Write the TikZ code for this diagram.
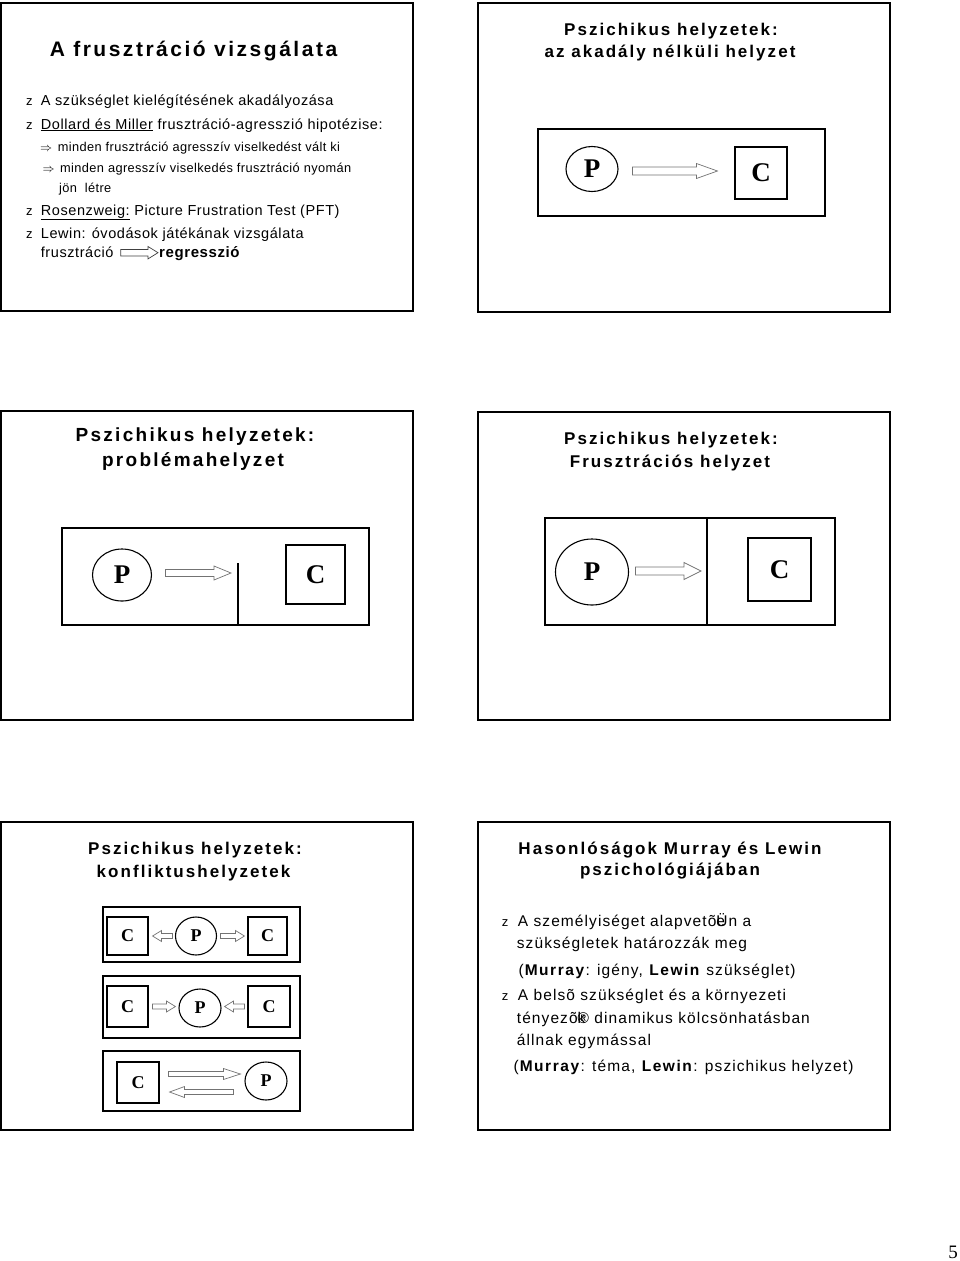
\documentclass[tikz,border=0pt]{standalone}
\usepackage{fontspec}
\setmainfont{Liberation Sans}
\newfontfamily\pcfont{Liberation Serif}
\usetikzlibrary{positioning,calc,shapes.geometric}

% hollow block arrow: [style]{tail}{tip}{shaft half}{head half}{head length}
\newcommand{\fatarrow}[6][]{%
  \draw[fat,#1] let \p1=#2, \p2=#3, \n1={ifthenelse(\x2>\x1,1,-1)} in
    (\x1,\y1-#4) -- ({\x2-(\n1)*(#6)},\y1-#4) -- ({\x2-(\n1)*(#6)},\y1-#5)
    -- (\x2,\y1) -- ({\x2-(\n1)*(#6)},\y1+#5) -- ({\x2-(\n1)*(#6)},\y1+#4)
    -- (\x1,\y1+#4) -- cycle;}

\tikzset{
  slide/.style={draw, line width=1.8pt},
  frame/.style={draw, line width=1.1pt},
  title1/.style={font={\bfseries\fontsize{21}{25}\selectfont\addfontfeature{LetterSpace=12}}, inner sep=0pt, anchor=base},
  title/.style={font={\bfseries\fontsize{17}{22}\selectfont\addfontfeature{LetterSpace=12}}, inner sep=0pt, anchor=base},
  bigtitle/.style={font={\bfseries\fontsize{19}{24}\selectfont\addfontfeature{LetterSpace=12}}, inner sep=0pt, anchor=base},
  body/.style={font={\fontsize{14.5}{17}\selectfont\addfontfeature{LetterSpace=4}}, inner sep=0pt, anchor=base west},
  body6/.style={font={\fontsize{15.5}{18}\selectfont\addfontfeature{LetterSpace=7}}, inner sep=0pt, anchor=base west},
  small/.style={font={\fontsize{12.8}{15}\selectfont\addfontfeature{LetterSpace=3}}, inner sep=0pt, anchor=base west},
  bul/.style={font={\fontsize{13}{15}\selectfont}, inner sep=0pt, anchor=base west},
  person/.style={ellipse, draw, line width=1.1pt, inner sep=0pt, font={\pcfont\bfseries\fontsize{27}{27}\selectfont}},
  goal/.style={rectangle, draw, line width=1.1pt, inner sep=0pt, font={\pcfont\bfseries\fontsize{27}{27}\selectfont}},
  little/.style={font={\pcfont\bfseries\fontsize{18}{18}\selectfont}},
  fat/.style={draw=black!55, fill=white, line width=0.7pt, line join=miter},
}
\newcommand{\wide}[1]{{\addfontfeature{LetterSpace=10}#1}}

\begin{document}
\begin{tikzpicture}[x=1pt, y=-1pt]
\useasboundingbox (0,0) rectangle (960,1261);

% Slide 1: A frusztracio vizsgalata
\draw[slide] (1,3) rectangle (413,311);
\node[title1] (t1) at (193.5,56) {A frusztráció vizsgálata};
\foreach \n/\y in {a/105.7, b/129, c/215, d/238}
  \node[bul] (z\n) at (26,\y) {z};
\node[body] (l1) at (40.7,105.7) {A szükséglet kielégítésének akadályozása};
\node[body] (l2) at (40.7,129) {\underline{Dollard és Miller} frusztráció-agresszió hipotézise:};
\node[small] (s1a) at (40,151.7) {$\Rightarrow$};
\node[small] (s1) at (57.7,151.7) {minden frusztráció agresszív viselkedést vált ki};
\node[small] (s2a) at (42.3,172) {$\Rightarrow$};
\node[small] (s2) at (60,172) {minden agresszív viselkedés frusztráció nyomán};
\node[small] (s3) at (59,192.7) {jön\ \ létre};
\node[body] (l3) at (40.7,215) {\underline{Rosenzweig:} Picture Frustration Test (PFT)};
\node[body] (l4) at (40.7,238) {Lewin: óvodások játékának vizsgálata};
\node[body] (fr) at (40.7,257.3) {frusztráció};
\node[body, font={\bfseries\fontsize{15}{17}\selectfont\addfontfeature{LetterSpace=4}}] (reg) at (159,257.3) {regresszió};
\fatarrow[draw=black!75]{($(fr.base east)+(7,-4.6)$)}{($(reg.base west)+(-1,-4.6)$)}{3.3pt}{6.2pt}{10pt}

% Slide 2: akadaly nelkuli helyzet
\draw[slide] (478,3) rectangle (890,312);
\node[title] (t2a) at (671,35) {Pszichikus helyzetek:};
\node[title] (t2b) at (670,57) {az akadály nélküli helyzet};
\draw[frame] (538,129) rectangle (825,216);
\node[person, minimum width=52pt, minimum height=45pt] (p2) at (592,169) {P};
\node[goal, minimum size=52pt] (c2) at (761,173) {C};
\fatarrow{($(p2.east)+(14,2)$)}{($(c2.west)+(-17,0)$)}{4pt}{7.5pt}{21pt}

% Slide 3: problemahelyzet
\draw[slide] (1,411) rectangle (413,720);
\node[bigtitle] (t3a) at (195,441) {Pszichikus helyzetek:};
\node[bigtitle] (t3b) at (193,466) {problémahelyzet};
\draw[frame] (62,528) rectangle (369,625);
\coordinate (wall) at (238,563);
\draw[frame] (wall) -- (238,625);
\node[person, minimum width=59pt, minimum height=52pt] (p3) at (122,575) {P};
\node[goal, minimum size=59pt] (c3) at (315.5,574.5) {C};
\fatarrow{($(p3.east)+(13.5,-2)$)}{($(wall)+(-7,0)$)}{3.5pt}{7pt}{17pt}

% Slide 4: frusztracios helyzet
\draw[slide] (478,412) rectangle (890,720);
\node[title] (t4a) at (671,444) {Pszichikus helyzetek:};
\node[title] (t4b) at (670,467) {Frusztrációs helyzet};
\draw[frame] (545,518) rectangle (835,625);
\coordinate (divider) at (707,518);
\draw[frame] (divider) -- (707,625);
\node[person, minimum width=73pt, minimum height=66pt] (p4) at (592,572) {P};
\node[goal, minimum size=63pt] (c4) at (779.5,569.5) {C};
\fatarrow{($(p4.east)+(6.5,-1)$)}{($(divider)+(-6,0)$)}{4pt}{8.5pt}{17pt}

% Slide 5: konfliktushelyzetek
\draw[slide] (1,822) rectangle (413,1130);
\node[title] (t5a) at (195,854) {Pszichikus helyzetek:};
\node[title] (t5b) at (193.5,877) {konfliktushelyzetek};
\draw[frame] (103,907) rectangle (300,962);
\draw[frame] (103,976) rectangle (300,1038);
\draw[frame] (103,1051) rectangle (300,1111);
% row 1
\node[goal, little, minimum width=41pt, minimum height=38pt] (c5a) at (127.5,936) {C};
\node[person, little, minimum width=41pt, minimum height=38pt] (p5a) at (196,936) {P};
\node[goal, little, minimum width=39pt, minimum height=38pt] (c5b) at (267.5,936) {C};
\fatarrow{($(p5a.west)+(-2.5,0)$)}{($(c5a.east)+(4,0)$)}{2.5pt}{5.5pt}{9pt}
\fatarrow{($(p5a.east)+(3.5,0)$)}{($(c5b.west)+(-3,0)$)}{2.5pt}{5.5pt}{9pt}
% row 2
\node[goal, little, minimum width=41pt, minimum height=41pt] (c5c) at (127.5,1006.5) {C};
\node[person, little, minimum width=42pt, minimum height=38pt] (p5b) at (200,1008) {P};
\node[goal, little, minimum width=42pt, minimum height=41pt] (c5d) at (269,1006.5) {C};
\fatarrow{($(c5c.east)+(4,0)$)}{($(p5b.west)+(-3,0)$)}{2.5pt}{5.5pt}{9pt}
\fatarrow{($(c5d.west)+(-3,0)$)}{($(p5b.east)+(3,0)$)}{2.5pt}{5.5pt}{9pt}
% row 3
\node[goal, little, minimum width=42pt, minimum height=41pt] (c5e) at (138,1082.5) {C};
\node[person, little, minimum width=42pt, minimum height=38pt] (p5c) at (266,1081) {P};
\fatarrow{($(c5e.east)+(9,-8.5)$)}{($(p5c.west)+(-4,0)$)}{2.5pt}{5.5pt}{17pt}
\fatarrow{($(p5c.west)+(-11,11)$)}{($(c5e.east)+(10,0)$)}{2.5pt}{5.5pt}{15pt}

% Slide 6: Murray es Lewin
\draw[slide] (478,822) rectangle (890,1130);
\node[title] (t6a) at (670,854) {Hasonlóságok Murray és Lewin};
\node[title] (t6b) at (670,875) {pszichológiájában};
\foreach \n/\y in {e/926.7, f/1000.7}
  \node[bul] (z\n) at (501.7,\y) {z};
\node[body6] (m1) at (517.7,926.7) {A személyiséget alapvetõ\rlap{e}Ün a};
\node[body6] (m2) at (516.7,948.3) {szükségletek határozzák meg};
\node[body6] (m3) at (518.3,975) {(\textbf{\wide{Murray}}: igény, \textbf{\wide{Lewin}} szükséglet)};
\node[body6] (m4) at (517.7,1000.7) {A belsõ szükséglet és a környezeti};
\node[body6] (m5) at (516.7,1023.3) {tényezõ\rlap{k}® dinamikus kölcsönhatásban};
\node[body6] (m6) at (516.7,1045) {állnak egymással};
\node[body6] (m7) at (513.3,1071.7) {(\textbf{\wide{Murray}}: téma, \textbf{\wide{Lewin}}: pszichikus helyzet)};

% page number
\node[font={\pcfont\fontsize{19}{19}\selectfont}, anchor=base east, inner sep=0pt] (pg) at (958,1258) {5};
\end{tikzpicture}
\end{document}
